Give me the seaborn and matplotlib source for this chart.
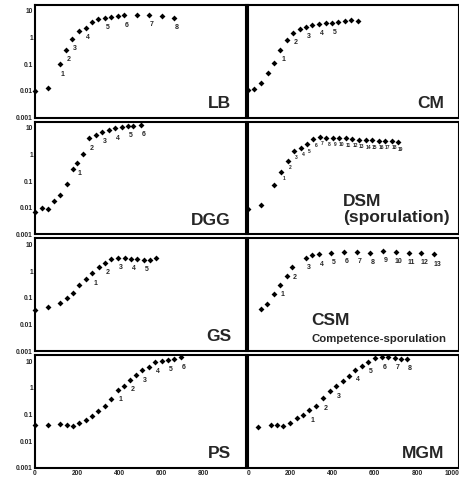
import matplotlib.pyplot as plt
import seaborn as sns
from matplotlib.ticker import NullLocator

# growth curves, time (min) vs OD
LB_X = [0, 61, 117, 149, 178, 210, 240, 270, 301, 333, 362, 392, 422, 482, 541, 602, 661]
LB_Y = [0.01, 0.013, 0.1, 0.35, 0.87, 1.8, 2.3, 3.8, 4.8, 5.5, 6.0, 6.4, 6.8, 7.0, 7.0, 6.6, 5.5]
LB_LAB = ["", "", "1", "2", "3", "", "4", "", "", "5", "", "", "6", "", "7", "", "8"]

CM_X = [0, 29, 61, 93, 122, 152, 181, 211, 243, 274, 304, 336, 366, 397, 427, 458, 488, 520]
CM_Y = [0.011, 0.012, 0.02, 0.047, 0.115, 0.34, 0.79, 1.5, 2.15, 2.5, 2.9, 3.2, 3.4, 3.6, 3.8, 4.1, 4.4, 4.1]
CM_LAB = ["", "", "", "", "", "1", "", "2", "", "3", "", "4", "", "5", "", "", "", ""]

DGG_X = [0, 32, 61, 90, 120, 154, 181, 198, 227, 258, 288, 320, 350, 379, 411, 442, 466, 501]
DGG_Y = [0.007, 0.01, 0.009, 0.018, 0.03, 0.08, 0.29, 0.46, 1.07, 4.0, 5.3, 6.9, 7.9, 9.4, 11, 12, 12, 12.6]
DGG_LAB = ["", "", "", "", "", "", "", "1", "", "2", "", "3", "", "4", "", "5", "", "6"]

DSM_X = [0, 62, 123, 155, 187, 216, 248, 278, 307, 339, 370, 400, 430, 462, 494, 525, 557, 587, 618, 648, 680, 710]
DSM_Y = [0.009, 0.0126, 0.07, 0.22, 0.58, 1.4, 1.78, 2.4, 3.9, 4.5, 4.3, 4.3, 4.3, 4.1, 3.9, 3.6, 3.4, 3.4, 3.3, 3.3, 3.2, 2.9]
DSM_LAB = ["", "", ""] + [str(i) for i in range(1, 20)]

GS_X = [0, 61, 120, 152, 181, 211, 243, 272, 302, 333, 363, 395, 426, 456, 485, 517, 546, 573]
GS_Y = [0.034, 0.045, 0.063, 0.1, 0.155, 0.3, 0.49, 0.83, 1.4, 2.0, 2.8, 3.1, 3.1, 2.9, 2.8, 2.6, 2.6, 3.0]
GS_LAB = ["", "", "", "", "", "", "", "1", "", "2", "", "3", "", "4", "", "5", "", ""]

CSM_X = [59, 88, 120, 150, 181, 208, 272, 302, 333, 392, 454, 515, 576, 638, 699, 760, 821, 883]
CSM_Y = [0.038, 0.059, 0.14, 0.3, 0.65, 1.4, 3.2, 4.0, 4.3, 4.7, 5.4, 5.4, 4.9, 5.7, 5.4, 4.8, 4.7, 4.3]
CSM_LAB = ["", "", "", "1", "", "2", "3", "", "4", "5", "6", "7", "8", "9", "10", "11", "12", "13"]

PS_X = [0, 61, 120, 152, 181, 211, 243, 272, 301, 333, 363, 395, 424, 453, 480, 510, 542, 571, 603, 632, 661, 693]
PS_Y = [0.04, 0.04, 0.045, 0.04, 0.036, 0.048, 0.063, 0.09, 0.135, 0.22, 0.4, 0.87, 1.2, 2.0, 3.0, 4.6,
        6.2, 9.2, 10, 11, 12.5, 14]
PS_LAB = [""] * 11 + ["1", "", "2", "", "3", "", "4", "", "5", "", "6"]

MGM_X = [45, 105, 137, 166, 198, 229, 260, 290, 322, 352, 387, 416, 447, 476, 508, 540, 569, 602, 632,
         663, 694, 724, 753]
MGM_Y = [0.035, 0.04, 0.04, 0.037, 0.047, 0.074, 0.098, 0.145, 0.22, 0.41, 0.8, 1.15, 1.8, 2.8, 4.7, 6.6,
         9.7, 13.2, 14, 14, 13, 12.5, 12.2]
MGM_LAB = ["", "", "", "", "", "", "", "1", "", "2", "", "3", "", "", "4", "", "5", "", "6", "", "7", "", "8"]

Y_TICKS = [0.001, 0.01, 0.1, 1, 10]
Y_TICKLABELS = ["0.001", "0.01", "0.1", "1", "10"]
X_TICKS_LEFT = [0, 200, 400, 600, 800]
X_TICKS_RIGHT = [0, 200, 400, 600, 800, 1000]

PANELS = [
    (LB_X, LB_Y, LB_LAB, "LB", None),
    (CM_X, CM_Y, CM_LAB, "CM", None),
    (DGG_X, DGG_Y, DGG_LAB, "DGG", None),
    (DSM_X, DSM_Y, DSM_LAB, "DSM\n(sporulation)", None),
    (GS_X, GS_Y, GS_LAB, "GS", None),
    (CSM_X, CSM_Y, CSM_LAB, "CSM", "Competence-sporulation"),
    (PS_X, PS_Y, PS_LAB, "PS", None),
    (MGM_X, MGM_Y, MGM_LAB, "MGM", None),
]

sns.set_style("white")
plt.rcParams["font.family"] = ["Liberation Sans", "DejaVu Sans"]

fig, axes = plt.subplots(4, 2, figsize=(4.6, 4.8), dpi=100)
fig.subplots_adjust(left=0.076, right=0.998, top=0.99, bottom=0.025, hspace=0.035, wspace=0.013)

for i, (xs, ys, labs, name, sub) in enumerate(PANELS):
    ax = axes.flat[i]
    row, col = divmod(i, 2)
    sns.scatterplot(x=xs, y=ys, ax=ax, color="black", marker="D", s=9,
                    linewidth=0, clip_on=False, zorder=3)
    small = name.startswith("DSM")
    for x, y, lab in zip(xs, ys, labs):
        if lab:
            ax.annotate(lab, (x, y), xytext=(2, -5) if small else (2, -7),
                        textcoords="offset points", ha="center", va="center",
                        fontsize=3.6 if small else 5, fontweight="bold")

    ax.set_yscale("log")
    ax.set_ylim(0.001, 17)
    ax.set_xlim(0, 1000)
    ax.set_yticks(Y_TICKS)
    ax.yaxis.set_minor_locator(NullLocator())
    if col == 0:
        ax.set_yticklabels(Y_TICKLABELS)
        ax.set_xticks(X_TICKS_LEFT)
    else:
        ax.set_yticklabels([])
        ax.set_xticks(X_TICKS_RIGHT)
    if row < 3:
        ax.set_xticklabels([])
    ax.tick_params(direction="in", length=2, width=0.8, labelsize=4.8, pad=1.5)
    for lbl in ax.get_xticklabels() + ax.get_yticklabels():
        lbl.set_fontweight("bold")
    if row == 3 and col == 1:
        ax.get_xticklabels()[-1].set_horizontalalignment("right")
    for sp in ax.spines.values():
        sp.set_color("black")
        sp.set_linewidth(1.5)

    if small:
        ax.text(0.45, 0.08, name, transform=ax.transAxes, ha="left", va="bottom",
                fontsize=12.5, fontweight="bold", linespacing=1.15)
    elif sub:
        ax.text(0.30, 0.21, name, transform=ax.transAxes, ha="left", va="bottom",
                fontsize=12.5, fontweight="bold")
        ax.text(0.30, 0.06, sub, transform=ax.transAxes, ha="left", va="bottom",
                fontsize=8.2, fontweight="bold")
    else:
        ax.text(0.93, 0.06, name, transform=ax.transAxes, ha="right", va="bottom",
                fontsize=12.5, fontweight="bold")

fig.savefig("out.png", dpi=100)
